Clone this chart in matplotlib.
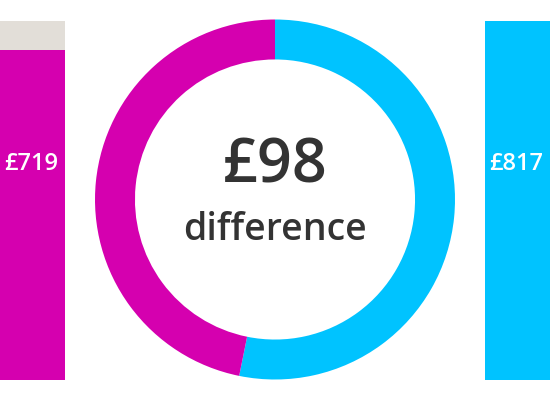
import matplotlib.pyplot as plt

# data
labels = ['Option A', 'Option B']
costs = [719, 817]
difference = costs[1] - costs[0]
colors = ['#D500AF', '#00C3FF']
grey = '#E2DED8'
text_dark = '#333333'

plt.rcParams['font.family'] = ['Open Sans', 'DejaVu Sans']

fig = plt.figure(figsize=(5.5, 4), dpi=100)

# bar axes (left and right edges of the picture)
bar_bottom = 20.5 / 400
bar_height = 358.5 / 400
bar_width = 65 / 550
base = -374  # lower limit of the bar scale

ax_left = fig.add_axes([0, bar_bottom, bar_width, bar_height])
ax_left.bar(0, costs[0] - base, bottom=base, width=1, color=colors[0])
ax_left.bar(0, difference, bottom=costs[0], width=1, color=grey)
ax_left.set_xlim(-0.5, 0.5)
ax_left.set_ylim(base, costs[1])
ax_left.axis('off')
ax_left.text(4 / 65, 0.584, '£%d' % costs[0], transform=ax_left.transAxes,
             color='white', fontsize=17, fontweight='semibold',
             ha='left', va='baseline')

ax_right = fig.add_axes([485 / 550, bar_bottom, bar_width, bar_height])
ax_right.bar(0, costs[1] - base, bottom=base, width=1, color=colors[1])
ax_right.set_xlim(-0.5, 0.5)
ax_right.set_ylim(base, costs[1])
ax_right.axis('off')
ax_right.text(4 / 65, 0.584, '£%d' % costs[1], transform=ax_right.transAxes,
              color='white', fontsize=17, fontweight='semibold',
              ha='left', va='baseline')

# donut in the middle
ax_pie = fig.add_axes([95 / 550, 20.5 / 400, 360 / 550, 360 / 400])
ax_pie.pie([costs[1], costs[0]], colors=[colors[1], colors[0]],
           startangle=90, counterclock=False, radius=1,
           wedgeprops=dict(width=0.222, linewidth=0))
ax_pie.set_xlim(-1, 1)
ax_pie.set_ylim(-1, 1)
ax_pie.set_aspect('equal')
ax_pie.axis('off')
ax_pie.text(0, 0.097, '£%d' % difference, ha='center', va='baseline',
            fontsize=44, fontweight='semibold', color=text_dark)
ax_pie.text(0, -0.225, 'difference', ha='center', va='baseline',
            fontsize=27, fontweight='semibold', color=text_dark)

fig.savefig('out.png', dpi=100)
